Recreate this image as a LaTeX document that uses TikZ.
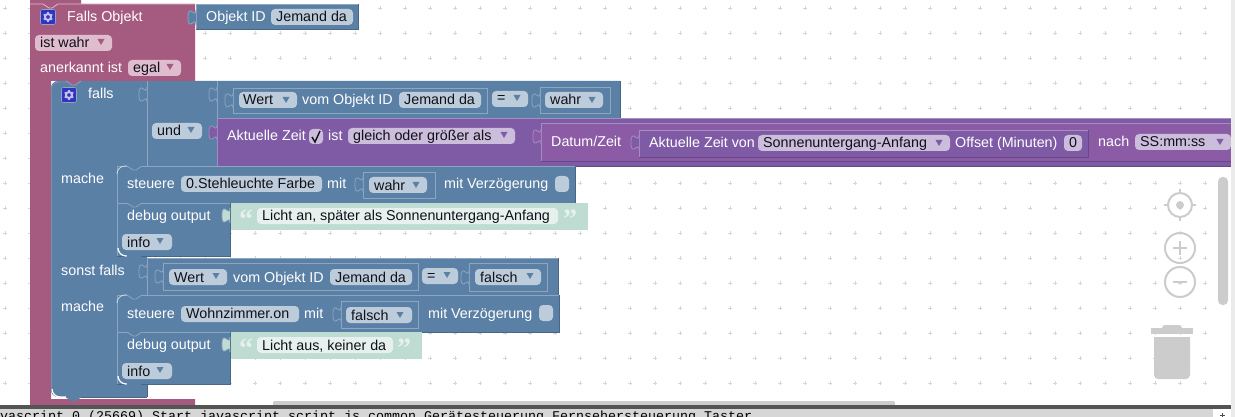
\documentclass[tikz,border=0pt]{standalone}
\usepackage{fontspec}
\setmainfont{Liberation Sans}
\newfontfamily\cmono{Liberation Mono}
\newfontfamily\qfont{Liberation Serif}
\definecolor{pk}{HTML}{A55B80}\definecolor{pkf}{HTML}{DFBDCF}\definecolor{pkd}{HTML}{844966}
\definecolor{bl}{HTML}{5B80A5}\definecolor{blf}{HTML}{BDCCDB}\definecolor{bld}{HTML}{496684}\definecolor{bll}{HTML}{8CA6C0}
\definecolor{pu}{HTML}{7F5BA5}\definecolor{puf}{HTML}{CBBDDB}\definecolor{pud}{HTML}{664984}\definecolor{pul}{HTML}{A68CC0}
\definecolor{pv}{HTML}{8C5BA5}
\definecolor{gr}{HTML}{BEDCD1}\definecolor{grf}{HTML}{E6F1ED}
\definecolor{txt}{HTML}{101018}\definecolor{gy}{HTML}{CCCCCC}\definecolor{icon}{HTML}{3232C4}
\definecolor{dots}{HTML}{D6D6D6}
\newcount\nn
\newcommand{\wl}[3]{\global\advance\nn by 1 \node[wlab] (t\the\nn) at (#1,#2) {#3};}
\newcommand{\dl}[3]{\global\advance\nn by 1 \node[dlab] (t\the\nn) at (#1,#2) {#3};}
% field x1 y1 x2 y2 colour
\newcommand{\fld}[5]{\fill[#5,rounded corners=4pt] (#1,#2) rectangle (#3,#4);}
\newcommand{\tri}[3]{\fill[#3,shift={(#1,#2)}] (-3.5,-3) -- (3.5,-3) -- (0,3) -- cycle;}
\newcommand{\blk}[7]{\fill[#5] (#1,#2) rectangle (#3,#4);
  \draw[#6,line width=.9pt] (#1,#4) -- (#1,#2) -- (#3,#2);
  \draw[#7,line width=.9pt] (#3,#2) -- (#3,#4) -- (#1,#4);}
\newcommand{\tabn}[4]{\fill[#3,shift={(#1,#2)}] (0,0) .. controls (0,10) and (-8,-8) .. (-8,7.5) .. controls (-8,23) and (0,5) .. (0,15) -- cycle;
  \draw[#4,line width=.8pt,shift={(#1,#2)}] (0,0) .. controls (0,10) and (-8,-8) .. (-8,7.5) .. controls (-8,23) and (0,5) .. (0,15);}
\newcommand{\ntc}[4]{\fill[#3,shift={(#1,#2)}] (0,0) -- (6,4) -- (9,4) -- (15,0) -- cycle;
  \draw[#4,line width=.8pt,shift={(#1,#2)}] (0,0) -- (6,4) -- (9,4) -- (15,0);}
\newcommand{\gear}[2]{\fill[icon,draw=bll,line width=.6pt,rounded corners=2pt] (#1-7.5,#2-7.5) rectangle (#1+7.5,#2+7.5);
  \draw[white!70!icon,line width=2pt] (#1,#2) circle (3);
  \foreach \a in {30,90,...,330} {\draw[white!70!icon,line width=1.6pt,shift={(#1,#2)}] (\a:3.5) -- (\a:5);}}
\tikzset{
  wlab/.style={anchor=base west,inner sep=0pt,text=white,font=\fontsize{14.3}{17}\selectfont},
  dlab/.style={anchor=base west,inner sep=0pt,text=txt,font=\fontsize{14.3}{17}\selectfont},
  qlab/.style={anchor=base west,inner sep=0pt,text=grf,font=\fontsize{28}{30}\qfont\bfseries},
  monolab/.style={anchor=base west,inner sep=0pt,text=black,font=\fontsize{13.33}{15}\cmono},
  ctrl/.style={draw=gy,line width=2pt}
}
\begin{document}
\begin{tikzpicture}[x=1pt,y=-1pt]
\path[use as bounding box] (0,0) rectangle (1235,417);
\clip (0,0) rectangle (1235,417);
\fill[white] (0,0) rectangle (1235,417);
% grid
\foreach \x in {5,30,...,1205} \foreach \y in {8,33,...,383} {
  \draw[dots,line width=.7pt] (\x-2,\y) -- (\x+2,\y) (\x,\y-2) -- (\x,\y+2);}
% pink block
\fill[pk] (30,0) -- (81,0) -- (81,4) -- (195,4) -- (195,81) -- (51,81) -- (51,399) -- (195,399) -- (195,405) -- (30,405) -- cycle;
\draw[pkf,line width=.7pt] (30,4) -- (43,4) -- (49,8) -- (52,8) -- (58,4) -- (81,4) -- (195,4);
% value on pink
\blk{196}{4}{358}{29.5}{bl}{bll}{bld}
\tabn{196}{10}{bl}{bll}
\gear{48}{17}
\wl{67}{22}{Falls Objekt}
\wl{206}{22}{Objekt ID}
\fld{271}{9}{353}{25}{blf}\dl{276}{22}{Jemand da}
\fld{35}{35}{112}{51}{pkf}\dl{40}{48}{ist wahr}\tri{101}{42}{pk}
\wl{40}{73}{anerkannt ist}
\fld{128}{60}{181}{76}{pkf}\dl{133}{73}{egal}\tri{170}{67}{pk}
% main falls block
\fill[bl,rounded corners=7pt] (51,81) -- (100,81) -- (100,397) -- (51,397) -- cycle;
\fill[bl] (70,81) -- (620,81) -- (620,118) -- (217,118) -- (217,166) -- (117,166) -- (117,256) -- (147,256) -- (147,258) -- (558,258) -- (558,295) -- (117,295) -- (117,384) -- (147,384) -- (147,397) -- (70,397) -- cycle;
\draw[bld,line width=.9pt] (620,81) -- (620,118);
\draw[bld,line width=.9pt] (558,258) -- (558,295);
\draw[bld,line width=.9pt] (147,384) -- (147,397);
\draw[bll,line width=.8pt] (147,81) -- (147,166);
\draw[bll,line width=.8pt] (217,81) -- (217,118);
\draw[bll,line width=.8pt] (147,258) -- (147,295);
\draw[bll,line width=.8pt] (147,258) -- (558,258);
\draw[bll!50!bl,line width=.8pt] (51,90) arc[start angle=180,end angle=270,radius=8] -- (66,82);
\draw[bll!50!bl,line width=.8pt] (51,90) -- (51,389);
\ntc{66}{81}{pk}{bll}
\fill[pk] (82,81) -- (195,81) -- (195,80) -- (82,80) -- cycle;
% white inner bottom of falls
\draw[white,line width=1.2pt] (52,389) arc[start angle=180,end angle=90,radius=8] -- (66,397);
\ntc{66}{397}{bl}{bl}
\draw[bld,line width=.9pt] (81,397) -- (147,397);
% falls row
\gear{69}{95}
\wl{88}{99}{falls}
\tabn{147}{87}{bl}{bll}
\tabn{217}{87}{bl}{bll}
\blk{233}{88}{487}{113}{bl}{bll}{bll}
\tabn{233}{93}{bl}{bll}
\fld{239}{92}{297}{108}{blf}\dl{243}{105}{Wert}\tri{286}{100}{bl}
\wl{302}{105}{vom Objekt ID}
\fld{399}{92}{481}{108}{blf}\dl{404}{105}{Jemand da}
\fld{492}{91}{528}{107}{blf}\dl{497}{103}{=}\tri{517}{98}{bl}
\blk{540}{87}{610}{113}{bl}{bll}{bll}
\tabn{540}{93}{bl}{bll}
\fld{545}{92}{603}{108}{blf}\dl{550}{105}{wahr}\tri{592}{100}{bl}
\fld{152}{123}{202}{139}{blf}\dl{157}{136}{und}\tri{191}{130}{bl}
% purple
\blk{217}{118}{1240}{166}{pu}{pul}{pud}
\tabn{217}{125}{pu}{pul}
\wl{227}{141}{Aktuelle Zeit}
\fld{309}{129}{323}{144}{puf}
\draw[txt,line width=1.4pt] (312,137) -- (315,142) -- (320,131);
\wl{328}{141}{ist}
\fld{348}{128}{515}{144}{puf}\dl{353}{141}{gleich oder größer als}\tri{504}{135}{pu}
\blk{541}{123}{1240}{161}{pv}{pul}{pud}
\tabn{541}{129}{pv}{pul}
\wl{551}{147}{Datum/Zeit}
\blk{639}{130}{1088}{157}{pu}{pul}{pud}
\tabn{639}{135}{pu}{pul}
\wl{649}{148}{Aktuelle Zeit von}
\fld{758}{135}{950}{151}{puf}\dl{763}{148}{Sonnenuntergang-Anfang}\tri{939}{143}{pu}
\wl{955}{148}{Offset (Minuten)}
\fld{1064}{135}{1082}{151}{puf}\dl{1069}{148}{0}
\wl{1098}{147}{nach}
\fld{1135}{134}{1231}{150}{puf}\dl{1140}{147}{SS:mm:ss}\tri{1220}{142}{pu}
% first mache
\wl{61}{183}{mache}
\blk{117}{166}{575}{203}{bl}{bll}{bld}
\draw[white!70!bl,line width=.8pt] (117,174) arc[start angle=180,end angle=270,radius=8] -- (127,166);
\ntc{127}{166}{bl}{bll}
\wl{127}{189}{steuere}
\fld{181}{176}{322}{192}{blf}\dl{186}{189}{0.Stehleuchte Farbe}
\wl{327}{189}{mit}
\blk{363}{172}{435}{198}{bl}{bll}{bll}
\tabn{363}{177}{bl}{bll}
\fld{369}{177}{427}{193}{blf}\dl{374}{190}{wahr}\tri{416}{185}{bl}
\wl{444}{189}{mit Verzögerung}
\fld{555}{176}{569}{192}{blf}
\blk{230}{203}{587}{229}{gr}{gr}{gr}
\blk{117}{203}{230}{256}{bl}{bll}{bld}
\ntc{127}{203}{bl}{bll}
\tabn{230}{208}{gr}{bll}
\wl{127}{221}{debug output}
\global\advance\nn by 1 \node[qlab] (t\the\nn) at (239,228) {“};
\fld{257}{208}{558}{224}{grf}\dl{262}{221}{Licht an, später als Sonnenuntergang-Anfang}
\global\advance\nn by 1 \node[qlab] (t\the\nn) at (563,228) {”};
\fld{122}{234}{172}{250}{blf}\dl{127}{247}{info}\tri{160}{241}{bl}
\draw[white,line width=1.2pt] (118,248) arc[start angle=180,end angle=90,radius=8] -- (127,256);
\ntc{127}{255.5}{bl}{bl}
% sonst falls
\wl{61}{275}{sonst falls}
\tabn{147}{264}{bl}{bll}
\blk{163}{263}{418}{290}{bl}{bll}{bll}
\tabn{163}{269}{bl}{bll}
\fld{169}{269}{227}{285}{blf}\dl{174}{282}{Wert}\tri{216}{276}{bl}
\wl{233}{282}{vom Objekt ID}
\fld{330}{269}{412}{285}{blf}\dl{335}{282}{Jemand da}
\fld{422}{268}{458}{284}{blf}\dl{427}{280}{=}\tri{447}{275}{bl}
\blk{469}{263}{547}{291}{bl}{bll}{bll}
\tabn{469}{270}{bl}{bll}
\fld{475}{269}{541}{285}{blf}\dl{480}{282}{falsch}\tri{530}{276}{bl}
% second mache
\wl{61}{311}{mache}
\blk{117}{295}{559}{332}{bl}{bll}{bld}
\draw[white!70!bl,line width=.8pt] (117,303) arc[start angle=180,end angle=270,radius=8] -- (127,295);
\ntc{127}{295}{bl}{bll}
\wl{127}{318}{steuere}
\fld{181}{306}{299}{322}{blf}\dl{186}{318}{Wohnzimmer.on}
\wl{304}{318}{mit}
\blk{341}{301}{418}{328}{bl}{bll}{bll}
\tabn{341}{307}{bl}{bll}
\fld{346}{307}{412}{323}{blf}\dl{351}{320}{falsch}\tri{400}{315}{bl}
\wl{428}{318}{mit Verzögerung}
\fld{539}{305}{553}{321}{blf}
\blk{230}{332}{421}{358}{gr}{gr}{gr}
\blk{117}{332}{230}{384}{bl}{bll}{bld}
\ntc{127}{332}{bl}{bll}
\tabn{230}{337}{gr}{bll}
\wl{127}{349}{debug output}
\global\advance\nn by 1 \node[qlab] (t\the\nn) at (239,357) {“};
\fld{257}{337}{393}{353}{grf}\dl{262}{350}{Licht aus, keiner da}
\global\advance\nn by 1 \node[qlab] (t\the\nn) at (397,357) {”};
\fld{122}{363}{172}{379}{blf}\dl{127}{376}{info}\tri{160}{370}{bl}
\draw[white,line width=1.2pt] (118,376) arc[start angle=180,end angle=90,radius=8] -- (127,384);
\ntc{127}{383.5}{bl}{bl}
% workspace controls
\draw[ctrl] (1180,205) circle (12);
\fill[gy] (1180,205) circle (4);
\draw[ctrl] (1180,189) -- (1180,193) (1180,217) -- (1180,221) (1164,205) -- (1168,205) (1192,205) -- (1196,205);
\draw[ctrl] (1180,248) circle (15);
\draw[ctrl] (1173,248) -- (1187,248) (1180,241) -- (1180,255);
\draw[ctrl] (1180,282) circle (15);
\draw[ctrl] (1173,282) -- (1187,282);
\fill[gy] (1151,328) rectangle (1193,334);
\fill[gy,rounded corners=3pt] (1162,331) -- (1162,325) -- (1182,325) -- (1182,331) -- cycle;
\fill[gy,rounded corners=4pt] (1154,337) -- (1190,337) -- (1190,379) -- (1154,379) -- cycle;
\fill[gy] (1154,337) rectangle (1190,350);
\fill[gy,rounded corners=4.5pt] (1218,177) rectangle (1228,305);
% page edges and console
\fill[gy,rounded corners=2pt] (273,401) rectangle (895,407);
\fill[black!8] (1231,0) rectangle (1235,417);
\fill[black!67] (0,405) rectangle (1231,409);
\fill[black!16] (0,409) rectangle (1213,417);
\draw[black!70,line width=.8pt] (1222,413) -- (1222,417) (1219.5,415.5) -- (1224.5,415.5);
\global\advance\nn by 1 \node[monolab] (t\the\nn) at (0,420) {vascript.0 (25669) Start javascript script.js.common.Gerätesteuerung.Fernsehersteuerung.Taster};
\end{tikzpicture}
\end{document}
